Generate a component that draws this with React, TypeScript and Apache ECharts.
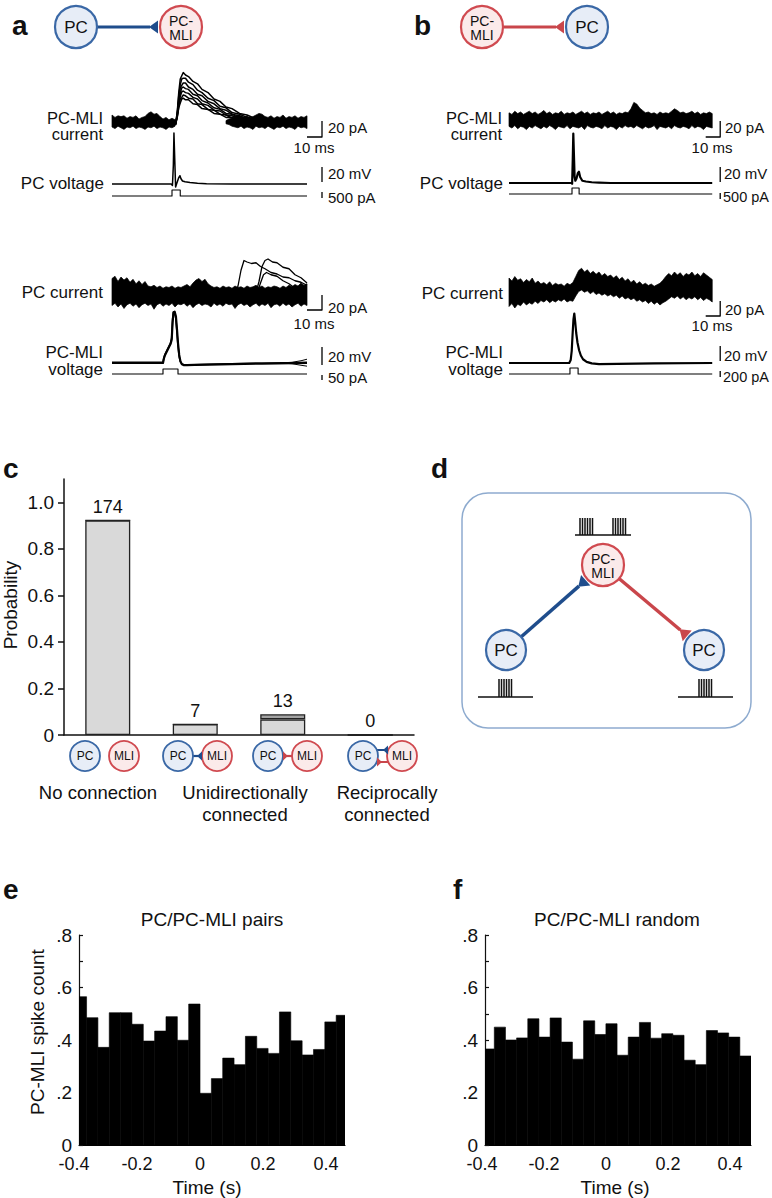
import React, { useEffect, useRef } from "react";
import * as echarts from "echarts";

const FONT = '"Liberation Sans", Arial, Helvetica, sans-serif';

// ======================= DATA =======================
// helper for regular time sampling (x positions only)
const steps = (start: number, n: number, step: number) => Array.from({ length: n }, (_, i) => start + i * step);

// ---- Panel a: PC-MLI current (pA) ----
const A1_BAND1_T = steps(0, 22, 2);
const A1_BAND1_UP = [10, 7, 9, 8, 9, 6, 8, 7, 9, 5, 7, 8, 12, 14, 11, 12, 8, 5, 7, 4, 6, 4];
const A1_BAND1_LO = [-5, -7, -4, -6, -8, -5, -6, -4, -7, -5, -6, -8, -5, -6, -4, -7, -5, -6, -8, -5, -6, -4];
const A1_BAND2_T = steps(76, 28, 2);
const A1_BAND2_UP = [3, 5, 6, 8, 10, 8, 7, 9, 6, 8, 10, 12, 11, 8, 7, 9, 6, 8, 7, 10, 6, 8, 7, 9, 6, 8, 7, 9];
const A1_BAND2_LO = [-1, -2, -4, -5, -6, -4, -7, -5, -6, -8, -4, -6, -5, -7, -4, -6, -8, -5, -6, -4, -7, -5, -6, -8, -4, -6, -5, -7];
const A1_SWEEP_T = [41, 42.5, 43.5, 44.5, 45.5, 46.5, 47.5, 49, 51, 54, 57, 60, 64, 68, 72, 76, 80, 85, 90, 95, 100, 106];
const A1_SWEEPS = [
  [2, 0, 14, 38, 55, 59, 63, 60, 58, 52, 49, 42, 38, 30, 27, 20, 18, 12, 10, 6, 6, 2],
  [-1, 1, 12, 34, 48, 55, 56, 56, 51, 48, 41, 38, 31, 28, 21, 19, 13, 11, 7, 6, 2, 2],
  [0, -2, 11, 29, 44, 47, 50, 50, 45, 42, 36, 34, 27, 24, 18, 16, 11, 9, 5, 5, 1, 2],
  [1, -1, 10, 27, 37, 44, 45, 43, 42, 36, 34, 28, 25, 19, 17, 12, 11, 6, 6, 2, 2, 0],
  [-2, 0, 9, 25, 33, 39, 40, 38, 37, 32, 30, 24, 22, 16, 15, 10, 9, 5, 5, 1, 2, -1],
  [0, 1, 8, 20, 30, 32, 35, 34, 31, 30, 24, 23, 17, 16, 11, 10, 6, 6, 2, 3, -1, 0],
  [1, -1, 7, 19, 25, 30, 31, 29, 29, 24, 23, 18, 17, 12, 11, 7, 7, 3, 3, 0, 1, -1],
];
// ---- Panel a: PC voltage (mV) and command (pA) ----
const A2_T = [0, 39.5, 40.3, 40.9, 41.3, 41.8, 42.4, 43.2, 44.4, 45.3, 46, 47, 48.7, 52, 57, 63, 80, 130];
const A2_V = [0, 0, -2, 25, 68, 35, -4, 1, 8, 11, 7, 4, 3, 2, 1, 0.3, 0, 0];
const A3_T = [0, 40, 40, 45.5, 45.5, 130];
const A3_V = [0, 0, 500, 500, 0, 0];
// ---- Panel a: PC current (pA) ----
const A4_T = steps(0, 66, 2);
const A4_UP = [22, 25, 18, 24, 20, 23, 17, 21, 15, 19, 14, 18, 12, 11, 13, 10, 12, 9, 11, 10,
  12, 9, 11, 10, 12, 14, 11, 16, 20, 22, 18, 21, 15, 12, 10, 11, 9, 12, 10, 11,
  9, 12, 10, 11, 9, 12, 10, 11, 13, 10, 12, 9, 11, 10, 12, 11, 9, 12, 10, 13, 11, 14, 12, 16, 13, 15];
const A4_LO = [-14, -11, -16, -12, -18, -13, -11, -15, -12, -17, -13, -11, -14, -12, -19, -13, -11, -15, -12, -14,
  -11, -16, -12, -13, -11, -15, -12, -17, -13, -11, -14, -12, -13, -16, -11, -14, -12, -15, -11, -13,
  -12, -18, -13, -11, -14, -12, -16, -13, -11, -15, -12, -14, -11, -17, -13, -12, -15, -11, -14, -12, -16, -13, -11, -15, -12, -14];
const A4_E1_T = [82, 84, 86, 88, 90, 93, 96, 99, 102, 106, 110, 114, 118, 122, 126, 130];
const A4_E1_V = [0, 12, 33, 46, 44, 42, 43, 38, 35, 30, 28, 24, 23, 19, 17, 13];
const A4_E2_T = [96, 98, 100, 102, 104, 107, 110, 114, 118, 122, 126, 130];
const A4_E2_V = [3, 18, 38, 46, 48, 44, 43, 37, 35, 27, 23, 16];
const A4_E3_T = [97, 99, 101, 103, 106, 110, 114, 118, 122];
const A4_E3_V = [4, 16, 27, 30, 27, 25, 19, 15, 9];
// ---- Panel a: PC-MLI voltage (mV) and command (pA) ----
const A5_T = [0, 34, 34.6, 35.4, 36.3, 37.2, 38.1, 39, 39.8, 40.4, 41, 41.8, 42.6, 43.3, 44, 44.8, 45.6, 46.6, 48, 50, 55, 65, 80, 100, 120, 130];
const A5_V1 = [0, 0, 5, 9, 12, 15, 18, 21, 26, 45, 56, 57, 52, 38, 22, 9, 2, -1.5, -2.5, -2.5, -2.2, -1.8, -1.2, -0.6, -0.2, 0];
const A5_V2 = [0.8, 0.8, 6, 10, 13, 16, 19, 22, 28, 49, 57, 56, 49, 34, 19, 7, 1.5, -1, -2, -2, -1.8, -1.4, -0.8, -0.2, 0.3, 0.8];
const A5_TAIL_T = [112, 120, 126, 130];
const A5_TAIL_UP = [0, 0.8, 2.5, 4.2];
const A5_TAIL_DN = [0, -0.8, -2.5, -3.5];
const A6_T = [0, 34, 34, 44, 44, 130];
const A6_V = [0, 0, 50, 50, 0, 0];

// ---- Panel b: PC-MLI current (pA) ----
const B1_T = steps(0, 71, 2);
const B1_UP = [9, 7, 11, 8, 10, 7, 9, 11, 8, 10, 7, 9, 12, 8, 10, 7, 9, 8, 11, 7,
  9, 8, 10, 7, 9, 11, 8, 10, 7, 9, 8, 10, 7, 9, 11, 8, 10, 7, 9, 8,
  10, 9, 14, 22, 20, 15, 12, 9, 10, 8, 9, 7, 10, 8, 9, 8, 11, 14, 12, 9,
  10, 8, 9, 11, 8, 10, 7, 9, 8, 10, 8];
const B1_LO = [-8, -10, -7, -11, -8, -9, -12, -8, -10, -7, -9, -11, -8, -10, -7, -9, -12, -8, -9, -10,
  -7, -11, -8, -9, -10, -8, -12, -7, -9, -10, -8, -9, -11, -7, -10, -8, -9, -12, -8, -10,
  -7, -9, -8, -10, -7, -9, -11, -8, -10, -9, -7, -12, -8, -9, -10, -8, -11, -7, -9, -10,
  -8, -9, -11, -7, -10, -8, -9, -12, -8, -9, -10];
// ---- Panel b: PC voltage (mV) and command (pA) ----
const B2_T = [0, 43, 43.5, 43.9, 44.3, 44.7, 45.2, 45.7, 46.5, 47.4, 48.2, 49, 50.5, 53, 57, 62, 70, 140];
const B2_V = [0, 0, -1, 30, 66, 40, 8, 3, 6, 13, 15, 8, 3, 2, 1, 0.5, 0, 0];
const B3_T = [0, 43.4, 43.4, 48.3, 48.3, 140];
const B3_V = [0, 0, 500, 500, 0, 0];
// ---- Panel b: PC current (pA) ----
const B4_T = steps(0, 71, 2);
const B4_UP = [20, 16, 22, 17, 19, 14, 18, 15, 20, 13, 16, 12, 14, 11, 15, 10, 13, 11, 12, 9,
  13, 11, 14, 22, 30, 33, 28, 31, 26, 29, 25, 28, 23, 26, 22, 24, 20, 23, 18, 21,
  16, 19, 14, 17, 12, 15, 11, 13, 10, 12, 9, 11, 13, 17, 22, 26, 23, 28, 24, 27,
  22, 26, 24, 28, 23, 26, 22, 27, 24, 21, 18];
const B4_LO = [-18, -14, -20, -15, -17, -12, -16, -13, -15, -11, -14, -10, -12, -9, -13, -10, -12, -9, -11, -8,
  -12, -10, -11, -4, 2, 4, 1, 3, -1, 2, -2, 0, -3, -1, -4, -2, -5, -3, -7, -4,
  -8, -6, -9, -7, -11, -9, -12, -10, -14, -11, -15, -12, -16, -13, -11, -8, -5, -7, -4, -8,
  -5, -9, -6, -8, -5, -9, -6, -10, -7, -9, -12];
// ---- Panel b: PC-MLI voltage (mV) and command (pA) ----
const B5_T = [0, 41.5, 42.5, 43.2, 43.8, 44.4, 45, 45.6, 46.3, 47.2, 48.3, 49.5, 51, 53.5, 57, 62, 75, 100, 140];
const B5_V = [0, 0, 4, 16, 38, 58, 66, 55, 40, 27, 17, 10, 5, 1.5, -0.5, -1.4, -1.2, -0.6, 0];
const B6_T = [0, 42, 42, 47.6, 47.6, 140];
const B6_V = [0, 0, 200, 200, 0, 0];

// ---- Panel c ----
const C_CATEGORIES = ["No connection", "PC to MLI", "MLI to PC", "Reciprocal"];
const C_SOLID = [0.922, 0.046, 0.067, 0];
const C_HATCH = [0, 0, 0.022, 0];
const C_COUNTS = [174, 7, 13, 0];
const C_TICKS = [0, 0.2, 0.4, 0.6, 0.8, 1.0];

// ---- Panels e, f: histograms ----
const HIST_EDGES = [-0.39, -0.36, -0.324, -0.288, -0.252, -0.216, -0.18, -0.144, -0.108, -0.072, -0.036, 0,
  0.036, 0.072, 0.108, 0.144, 0.18, 0.216, 0.252, 0.288, 0.324, 0.36, 0.396, 0.432, 0.47];
const E_VALUES = [0.565, 0.485, 0.372, 0.504, 0.504, 0.46, 0.396, 0.434, 0.489, 0.399, 0.537, 0.197,
  0.253, 0.331, 0.306, 0.414, 0.368, 0.349, 0.507, 0.397, 0.343, 0.364, 0.469, 0.494];
const F_VALUES = [0.366, 0.449, 0.4, 0.408, 0.481, 0.411, 0.484, 0.392, 0.327, 0.473, 0.421, 0.462,
  0.342, 0.411, 0.467, 0.407, 0.424, 0.418, 0.323, 0.306, 0.436, 0.427, 0.411, 0.339];
const HIST_X_TICKS = [-0.4, -0.2, 0, 0.2, 0.4];

// ======================= LAYOUT =======================
type TG = { left: number; top: number; width: number; height: number; pxPerMs: number; baseY: number; pxPerUnit: number };
const TRACE_GRIDS: Record<string, TG> = {
  A1: { left: 112, top: 50, width: 225, height: 92, pxPerMs: 1.5, baseY: 123, pxPerUnit: 0.8 },
  A2: { left: 112, top: 125, width: 225, height: 70, pxPerMs: 1.5, baseY: 184, pxPerUnit: 0.75 },
  A3: { left: 112, top: 183, width: 225, height: 20, pxPerMs: 1.5, baseY: 196, pxPerUnit: 0.012 },
  A4: { left: 112, top: 245, width: 225, height: 75, pxPerMs: 1.5, baseY: 295, pxPerUnit: 0.75 },
  A5: { left: 112, top: 300, width: 225, height: 70, pxPerMs: 1.5, baseY: 363, pxPerUnit: 0.9 },
  A6: { left: 112, top: 366, width: 225, height: 18, pxPerMs: 1.5, baseY: 374, pxPerUnit: 0.1 },
  B1: { left: 509, top: 50, width: 225, height: 92, pxPerMs: 1.4516, baseY: 120, pxPerUnit: 0.8 },
  B2: { left: 509, top: 125, width: 225, height: 70, pxPerMs: 1.4516, baseY: 183, pxPerUnit: 0.75 },
  B3: { left: 509, top: 183, width: 225, height: 20, pxPerMs: 1.4516, baseY: 194, pxPerUnit: 0.012 },
  B4: { left: 509, top: 245, width: 225, height: 80, pxPerMs: 1.4516, baseY: 293, pxPerUnit: 0.75 },
  B5: { left: 509, top: 300, width: 225, height: 70, pxPerMs: 1.4516, baseY: 363, pxPerUnit: 0.75 },
  B6: { left: 509, top: 364, width: 225, height: 18, pxPerMs: 1.4516, baseY: 374, pxPerUnit: 0.03 },
};
// scale bars: t = x of the vertical bar (ms), bottomY = pixel of its lower end
const SCALEBARS = [
  { g: "A1", t: 140, bottomY: 137, size: 20, ms: 10 },
  { g: "A2", t: 140, bottomY: 182, size: 20, ms: 0 },
  { g: "A3", t: 140, bottomY: 198, size: 500, ms: 0 },
  { g: "A4", t: 140, bottomY: 310, size: 20, ms: 10 },
  { g: "A5", t: 140, bottomY: 365, size: 20, ms: 0 },
  { g: "A6", t: 140, bottomY: 380, size: 50, ms: 0 },
  { g: "B1", t: 145.5, bottomY: 137, size: 20, ms: 10 },
  { g: "B2", t: 145.5, bottomY: 182, size: 20, ms: 0 },
  { g: "B3", t: 145.5, bottomY: 199, size: 500, ms: 0 },
  { g: "B4", t: 145.5, bottomY: 316, size: 20, ms: 10 },
  { g: "B5", t: 145.5, bottomY: 361, size: 20, ms: 0 },
  { g: "B6", t: 145.5, bottomY: 377, size: 200, ms: 0 },
];

const BLUE_LINE = "#1f4d8c";
const RED_LINE = "#c9464b";
const PC_STYLE = { fill: "#e7edf7", stroke: "#3a68a6" };
const MLI_STYLE = { fill: "#fbeaea", stroke: "#d04a50" };

function buildOption() {
  const grid: any[] = [];
  const xAxis: any[] = [];
  const yAxis: any[] = [];
  const series: any[] = [];
  const gi: Record<string, number> = {};

  for (const [k, g] of Object.entries(TRACE_GRIDS)) {
    const i = grid.length;
    gi[k] = i;
    grid.push({ left: g.left, top: g.top, width: g.width, height: g.height });
    xAxis.push({ type: "value", gridIndex: i, min: 0, max: g.width / g.pxPerMs, show: false });
    yAxis.push({
      type: "value", gridIndex: i,
      min: -(g.top + g.height - g.baseY) / g.pxPerUnit,
      max: (g.baseY - g.top) / g.pxPerUnit,
      show: false,
    });
  }

  const line = (g: string, t: number[], v: number[], width = 1.2, z = 3) => ({
    type: "line", xAxisIndex: gi[g], yAxisIndex: gi[g],
    data: t.map((x, i) => [x, v[i]]),
    symbol: "none", showSymbol: false, silent: true, clip: false, z,
    lineStyle: { color: "#000", width, join: "round" },
  });
  const band = (g: string, t: number[], lo: number[], up: number[]) => ({
    type: "custom", xAxisIndex: gi[g], yAxisIndex: gi[g], silent: true, clip: false, z: 2,
    data: [[t[0], lo[0]]], encode: { x: 0, y: 1 },
    renderItem: (_p: any, api: any) => {
      const pts: number[][] = [];
      t.forEach((x, i) => pts.push(api.coord([x, up[i]])));
      for (let i = t.length - 1; i >= 0; i--) pts.push(api.coord([t[i], lo[i]]));
      return { type: "polygon", shape: { points: pts }, style: { fill: "#000", stroke: "#000", lineWidth: 0.7 } };
    },
  });

  // panel a traces
  series.push(band("A1", A1_BAND1_T, A1_BAND1_LO, A1_BAND1_UP));
  series.push(band("A1", A1_BAND2_T, A1_BAND2_LO, A1_BAND2_UP));
  A1_SWEEPS.forEach((s) => series.push(line("A1", A1_SWEEP_T, s, 1.5)));
  series.push(line("A2", A2_T, A2_V, 1.5));
  series.push(line("A3", A3_T, A3_V, 1.1));
  series.push(band("A4", A4_T, A4_LO, A4_UP));
  series.push(line("A4", A4_E1_T, A4_E1_V, 1.3));
  series.push(line("A4", A4_E2_T, A4_E2_V, 1.3));
  series.push(line("A4", A4_E3_T, A4_E3_V, 1.3));
  series.push(line("A5", A5_T, A5_V1, 2.2));
  series.push(line("A5", A5_T, A5_V2, 1.6));
  series.push(line("A5", A5_TAIL_T, A5_TAIL_UP, 1));
  series.push(line("A5", A5_TAIL_T, A5_TAIL_DN, 1));
  series.push(line("A6", A6_T, A6_V, 1.1));
  // panel b traces
  series.push(band("B1", B1_T, B1_LO, B1_UP));
  series.push(line("B2", B2_T, B2_V, 2.2));
  series.push(line("B3", B3_T, B3_V, 1.1));
  series.push(band("B4", B4_T, B4_LO, B4_UP));
  series.push(line("B5", B5_T, B5_V, 2.2));
  series.push(line("B6", B6_T, B6_V, 1.1));
  // scale bars
  SCALEBARS.forEach((sb) => {
    const g = TRACE_GRIDS[sb.g];
    const vb = (g.baseY - sb.bottomY) / g.pxPerUnit;
    const t = sb.ms ? [sb.t - sb.ms, sb.t, sb.t] : [sb.t, sb.t];
    const v = sb.ms ? [vb, vb, vb + sb.size] : [vb, vb + sb.size];
    series.push(line(sb.g, t, v, 1.3));
  });

  // ---------- panel c ----------
  const ci = grid.length;
  grid.push({ left: 64, top: 479, width: 350, height: 256 });
  xAxis.push({
    type: "category", gridIndex: ci, data: C_CATEGORIES,
    axisLine: { lineStyle: { color: "#111", width: 1.5 } },
    axisTick: { show: false }, axisLabel: { show: false },
  });
  yAxis.push({
    type: "value", gridIndex: ci, min: 0, max: 1.1, interval: 0.2,
    axisLine: { show: true, onZero: false, lineStyle: { color: "#111", width: 1.5 } },
    axisTick: { show: true, inside: false, length: 6, lineStyle: { color: "#111", width: 1.5 }, customValues: C_TICKS },
    axisLabel: {
      customValues: C_TICKS, fontSize: 19, color: "#111", margin: 10, fontFamily: FONT,
      formatter: (v: number) => (v === 0 ? "0" : v.toFixed(1)),
    },
    splitLine: { show: false },
  });
  series.push({
    type: "bar", xAxisIndex: ci, yAxisIndex: ci, stack: "c", barWidth: 45, silent: true,
    data: C_SOLID,
    itemStyle: { color: "#d9d9d9", borderColor: "#222", borderWidth: 1.3 },
  });
  series.push({
    type: "bar", xAxisIndex: ci, yAxisIndex: ci, stack: "c", barWidth: 45, silent: true,
    data: C_HATCH,
    itemStyle: { color: "#a3a3a3", borderColor: "#222", borderWidth: 1.3 },
    label: {
      show: true, position: "top", distance: 4, fontSize: 18, color: "#111", fontFamily: FONT,
      formatter: (p: any) => String(C_COUNTS[p.dataIndex]),
    },
  });

  // ---------- panels e, f ----------
  const hist = (idx: number, values: number[]) => ({
    type: "custom", xAxisIndex: idx, yAxisIndex: idx, clip: true, silent: true,
    data: values.map((v, i) => [HIST_EDGES[i], HIST_EDGES[i + 1], v]),
    encode: { x: [0, 1], y: 2 },
    renderItem: (_p: any, api: any) => {
      const a = api.coord([api.value(0), api.value(2)]);
      const b = api.coord([api.value(1), 0]);
      return {
        type: "rect",
        shape: { x: a[0], y: a[1], width: b[0] - a[0], height: b[1] - a[1] },
        style: { fill: "#000", stroke: "#000", lineWidth: 0.6 },
      };
    },
  });
  const histAxes = (left: number, width: number, xmin: number, xmax: number, labLeft: number, labWidth: number, values: number[]) => {
    const i = grid.length;
    grid.push({ left, top: 935, width, height: 210 });
    xAxis.push({
      type: "value", gridIndex: i, min: xmin, max: xmax,
      axisLine: { show: true, onZero: false, lineStyle: { color: "#000", width: 1.2 } },
      axisTick: { show: false }, axisLabel: { show: false }, splitLine: { show: false },
    });
    yAxis.push({
      type: "value", gridIndex: i, min: 0, max: 0.8, interval: 0.1,
      axisLine: { show: true, onZero: false, lineStyle: { color: "#111", width: 1.2 } },
      axisTick: { show: true, inside: true, length: 4, lineStyle: { color: "#111", width: 1.2 } },
      axisLabel: {
        fontSize: 19, color: "#111", margin: 7, fontFamily: FONT,
        formatter: (v: number) => {
          const n = Math.round(v * 10);
          if (n % 2) return "";
          return n === 0 ? "0" : "." + n;
        },
      },
      splitLine: { show: false },
    });
    series.push(hist(i, values));
    const j = grid.length;
    grid.push({ left: labLeft, top: 935, width: labWidth, height: 210 });
    xAxis.push({
      type: "value", gridIndex: j, min: HIST_X_TICKS[0], max: HIST_X_TICKS[HIST_X_TICKS.length - 1], interval: 0.2,
      axisLine: { show: false, onZero: false }, axisTick: { show: false }, splitLine: { show: false },
      axisLabel: {
        fontSize: 18, color: "#111", margin: 10, fontFamily: FONT,
        formatter: (v: number) => (Math.abs(v) < 1e-9 ? "0" : v.toFixed(1)),
      },
    });
    yAxis.push({ type: "value", gridIndex: j, min: 0, max: 1, show: false, axisLine: { show: false, onZero: false } });
  };
  histAxes(79, 266, -0.384, 0.46, 74, 252, E_VALUES);
  histAxes(485, 266, -0.39, 0.468, 482, 248, F_VALUES);

  // ---------- graphic: texts, diagrams ----------
  const G: any[] = [];
  const text = (x: number, y: number, s: string, size: number, align = "left", extra: any = {}) =>
    G.push({
      type: "text", x, y, z: 20, silent: true, rotation: extra.rotation || 0,
      style: {
        text: s, fill: "#111", fontSize: size, fontFamily: FONT, fontWeight: extra.weight || "normal",
        align, verticalAlign: "middle", lineHeight: extra.lineHeight || Math.round(size * 1.15),
      },
    });
  const node = (cx: number, cy: number, r: number, kind: string, label: string, size: number, lw: number) => {
    const c = kind === "pc" ? PC_STYLE : MLI_STYLE;
    G.push({ type: "circle", z: 10, silent: true, shape: { cx, cy, r }, style: { fill: c.fill, stroke: c.stroke, lineWidth: lw } });
    const two = label.indexOf("\n") >= 0;
    text(cx, two ? cy + 0.6 : cy, label, size, "center", { lineHeight: two ? size : undefined });
  };
  const syn = (x1: number, y1: number, x2: number, y2: number, color: string, lw: number, hl: number, hw: number) => {
    const dx = x2 - x1, dy = y2 - y1, L = Math.hypot(dx, dy), ux = dx / L, uy = dy / L;
    const tx = x2 - ux * hl, ty = y2 - uy * hl, px = -uy, py = ux;
    G.push({ type: "line", z: 9, silent: true, shape: { x1, y1, x2: tx + ux, y2: ty + uy }, style: { stroke: color, lineWidth: lw } });
    G.push({
      type: "polygon", z: 11, silent: true,
      shape: { points: [[tx, ty], [x2 + px * hw, y2 + py * hw], [x2 - px * hw, y2 - py * hw]] },
      style: { fill: color },
    });
  };
  const train = (x0: number, x1: number, y: number, spikes: number[], top: number) => {
    const pts: number[][] = [[x0, y]];
    spikes.forEach((s) => pts.push([s, y], [s, top], [s, y]));
    pts.push([x1, y]);
    G.push({ type: "polyline", z: 10, silent: true, shape: { points: pts }, style: { stroke: "#111", lineWidth: 1.5, fill: null } });
  };

  // panel letters
  text(12, 25, "a", 28, "left", { weight: "bold" });
  text(414, 25, "b", 28, "left", { weight: "bold" });
  text(3, 468, "c", 28, "left", { weight: "bold" });
  text(431, 468, "d", 28, "left", { weight: "bold" });
  text(3, 889, "e", 28, "left", { weight: "bold" });
  text(453, 889, "f", 28, "left", { weight: "bold" });

  // headers a / b
  syn(97, 27, 158, 27, BLUE_LINE, 3, 9, 6.5);
  node(76, 27, 21, "pc", "PC", 17, 2.2);
  node(181, 27, 21, "mli", "PC-\nMLI", 14, 2.2);
  syn(504, 27, 564, 27, RED_LINE, 3, 9, 6.5);
  node(482, 27, 21, "mli", "PC-\nMLI", 14, 2.2);
  node(587, 27, 21, "pc", "PC", 17, 2.2);

  // trace labels
  text(103, 125.5, "PC-MLI\ncurrent", 16.5, "right", { lineHeight: 16 });
  text(104, 183, "PC voltage", 17, "right");
  text(103, 292, "PC current", 17, "right");
  text(103, 360.5, "PC-MLI\nvoltage", 17, "right", { lineHeight: 17 });
  text(502, 125.5, "PC-MLI\ncurrent", 16.5, "right", { lineHeight: 16 });
  text(503, 183, "PC voltage", 17, "right");
  text(503, 293, "PC current", 17, "right");
  text(503, 360.5, "PC-MLI\nvoltage", 17, "right", { lineHeight: 17 });
  // scale bar labels
  text(328, 127, "20 pA", 15);
  text(314, 147, "10 ms", 15, "center");
  text(328, 173, "20 mV", 15);
  text(328, 197, "500 pA", 15);
  text(328, 307, "20 pA", 15);
  text(314, 323, "10 ms", 15, "center");
  text(328, 356, "20 mV", 15);
  text(328, 377, "50 pA", 15);
  text(725, 127, "20 pA", 15);
  text(712, 147, "10 ms", 15, "center");
  text(724, 173, "20 mV", 15);
  text(723, 197, "500 pA", 14.5);
  text(725, 309, "20 pA", 15);
  text(712, 325, "10 ms", 15, "center");
  text(724, 355, "20 mV", 15);
  text(723, 377, "200 pA", 14.5);

  // panel c extras
  text(10, 605, "Probability", 19, "center", { rotation: Math.PI / 2 });
  node(85, 756, 15, "pc", "PC", 12, 1.8);
  node(124, 756, 15, "mli", "MLI", 12, 1.8);
  syn(193, 756, 202, 756, BLUE_LINE, 2.2, 5, 4.5);
  node(178, 756, 15, "pc", "PC", 12, 1.8);
  node(217, 756, 15, "mli", "MLI", 12, 1.8);
  syn(292, 756, 283, 756, RED_LINE, 2.2, 5, 4.5);
  node(268, 756, 15, "pc", "PC", 12, 1.8);
  node(307, 756, 15, "mli", "MLI", 12, 1.8);
  syn(376, 750, 388, 750, BLUE_LINE, 2, 5, 4.5);
  syn(389, 762, 377, 762, RED_LINE, 2, 5, 4.5);
  node(363, 756, 15, "pc", "PC", 12, 1.8);
  node(402, 756, 15, "mli", "MLI", 12, 1.8);
  text(98, 792, "No connection", 18.5, "center");
  text(245, 803, "Unidirectionally\nconnected", 18.5, "center", { lineHeight: 22 });
  text(387, 803, "Reciprocally\nconnected", 18.5, "center", { lineHeight: 22 });

  // panel d
  G.push({ type: "rect", z: 5, silent: true, shape: { x: 462, y: 493, width: 289, height: 235, r: 26 }, style: { fill: "#fff", stroke: "#8eabcf", lineWidth: 1.5 } });
  syn(521, 637, 585.7, 580.2, BLUE_LINE, 3.5, 10, 7);
  syn(619, 578.5, 687.2, 635.8, RED_LINE, 3.5, 10, 7);
  node(603, 565, 21, "mli", "PC-\nMLI", 14, 2.2);
  node(506, 650, 20, "pc", "PC", 17, 2.2);
  node(704, 650, 20, "pc", "PC", 17, 2.2);
  train(575, 631, 535, [580, 582.5, 585, 587.5, 590, 592.5, 613, 615.5, 618, 620.5, 623, 625.5], 518);
  train(478, 533, 697, [499, 501.5, 504, 506.5, 509, 511.5], 679);
  train(678, 733, 697, [699, 701.5, 704, 706.5, 709, 711.5], 679);

  // panels e, f texts
  text(212, 919, "PC/PC-MLI pairs", 19, "center");
  text(617, 919, "PC/PC-MLI random", 19, "center");
  text(37, 1032, "PC-MLI spike count", 19, "center", { rotation: Math.PI / 2 });
  text(207, 1187, "Time (s)", 19, "center");
  text(615, 1187, "Time (s)", 19, "center");

  return {
    animation: false,
    backgroundColor: "#fff",
    textStyle: { fontFamily: FONT },
    grid, xAxis, yAxis, series,
    graphic: { elements: G },
  };
}

export default function App() {
  const ref = useRef<HTMLDivElement>(null);
  useEffect(() => {
    const chart = echarts.init(ref.current!, null, { renderer: "svg" });
    chart.setOption(buildOption() as any);
    return () => chart.dispose();
  }, []);
  return (
    <div
      ref={ref}
      style={{ position: "absolute", left: 0, top: 0, width: 772, height: 1198, background: "#fff" }}
    />
  );
}
